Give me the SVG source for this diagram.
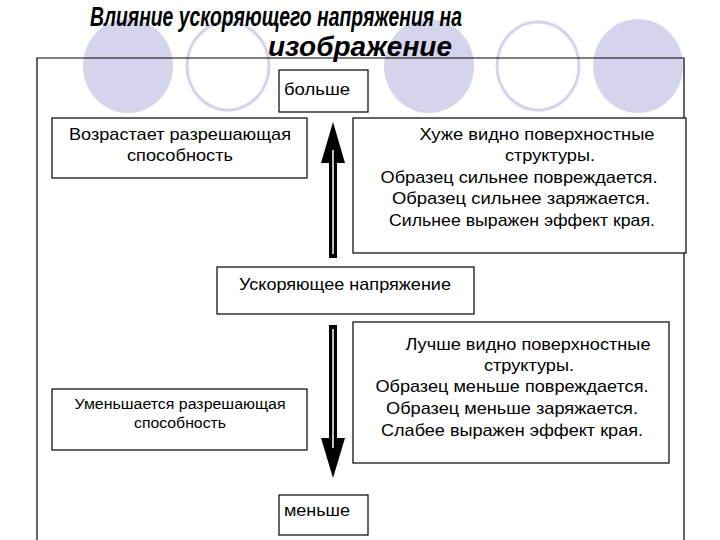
<svg xmlns="http://www.w3.org/2000/svg" width="720" height="540" viewBox="0 0 720 540">
<style>
.b{fill:#fff;stroke:#000;stroke-width:1.2}
.t{font-family:"Liberation Sans",Arial,sans-serif;font-size:17px;fill:#000;text-anchor:middle}
.s{font-size:14px}
.cf{fill:#d4d4ec}
.co{fill:#fff;stroke:#d4d4ec;stroke-width:3}
.h{font-family:"Liberation Sans",Arial,sans-serif;font-size:27px;font-weight:bold;font-style:italic}
</style>
<rect width="720" height="540" fill="#fff"/>
<g id="bg">
<ellipse class="cf" cx="128" cy="66" rx="45" ry="47"/>
<ellipse class="co" cx="228" cy="66" rx="41" ry="44"/>
<ellipse class="cf" cx="429" cy="66" rx="45" ry="47"/>
<ellipse class="co" cx="538" cy="66" rx="41" ry="44"/>
<ellipse class="cf" cx="638" cy="66" rx="45" ry="47"/>
</g>
<text class="h" x="90" y="26" textLength="372" lengthAdjust="spacingAndGlyphs">Влияние ускоряющего напряжения на</text>
<text class="h" x="268" y="56" textLength="184" lengthAdjust="spacingAndGlyphs">изображение</text>
<path d="M37,540 V58 H684 V540" fill="none" stroke="#000" stroke-width="1.2"/>
<g id="n1"><rect class="b" x="279" y="70" width="89" height="42"/><text class="t" x="317" y="95" textLength="66" lengthAdjust="spacingAndGlyphs">больше</text></g>
<g id="n2"><rect class="b" x="52" y="118" width="255" height="60"/><text class="t" x="180" y="140" textLength="222" lengthAdjust="spacingAndGlyphs">Возрастает разрешающая</text><text class="t" x="180" y="161" textLength="106" lengthAdjust="spacingAndGlyphs">способность</text></g>
<g id="n3"><rect class="b" x="353" y="118" width="333" height="135"/>
<text class="t" x="537" y="140" textLength="235" lengthAdjust="spacingAndGlyphs">Хуже видно поверхностные</text><text class="t" x="550" y="161" textLength="90" lengthAdjust="spacingAndGlyphs">структуры.</text><text class="t" x="519" y="183" textLength="277" lengthAdjust="spacingAndGlyphs">Образец сильнее повреждается.</text><text class="t" x="521" y="204" textLength="258" lengthAdjust="spacingAndGlyphs">Образец сильнее заряжается.</text><text class="t" x="522" y="226" textLength="266" lengthAdjust="spacingAndGlyphs">Сильнее выражен эффект края.</text></g>
<g id="n4"><rect class="b" x="217" y="267" width="257" height="47"/><text class="t" x="345" y="290" textLength="212" lengthAdjust="spacingAndGlyphs">Ускоряющее напряжение</text></g>
<g id="n5"><rect class="b" x="52" y="389" width="255" height="61"/><text class="t s" x="180" y="409" textLength="211" lengthAdjust="spacingAndGlyphs">Уменьшается разрешающая</text><text class="t s" x="180" y="428" textLength="92" lengthAdjust="spacingAndGlyphs">способность</text></g>
<g id="n6"><rect class="b" x="353" y="322" width="316" height="141"/>
<text class="t" x="528" y="350" textLength="245" lengthAdjust="spacingAndGlyphs">Лучше видно поверхностные</text><text class="t" x="529" y="371" textLength="90" lengthAdjust="spacingAndGlyphs">структуры.</text><text class="t" x="512" y="392" textLength="273" lengthAdjust="spacingAndGlyphs">Образец меньше повреждается.</text><text class="t" x="512" y="414" textLength="252" lengthAdjust="spacingAndGlyphs">Образец меньше заряжается.</text><text class="t" x="512" y="436" textLength="262" lengthAdjust="spacingAndGlyphs">Слабее выражен эффект края.</text></g>
<g id="n7"><rect class="b" x="279" y="495" width="89" height="40"/><text class="t" x="317" y="516" textLength="66" lengthAdjust="spacingAndGlyphs">меньше</text></g>
<g id="connectors">
<path d="M329,258 V163 H321 L333,122 L345,163 H337 V258 Z" fill="#000"/>
<path d="M333,254 V150" stroke="#fff" stroke-width="1.5"/>
<path d="M329,325 V438 H321 L333,478 L345,438 H337 V325 Z" fill="#000"/>
<path d="M333,329 V448" stroke="#fff" stroke-width="1.5"/>
</g>
</svg>
